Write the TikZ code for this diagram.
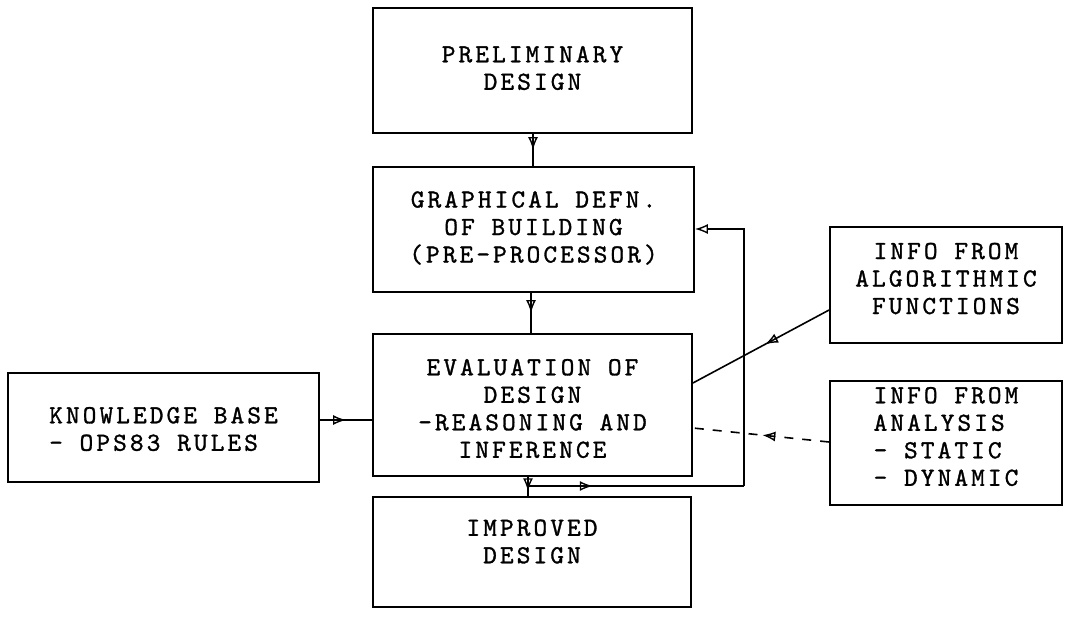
\documentclass[tikz,border=0pt]{standalone}
\usepackage{fontspec}
\usetikzlibrary{arrows.meta,decorations.markings}
\newfontfamily\typew{lmmono10-regular.otf}[LetterSpace=12,FakeBold=1.2]
% text block moved vertically inside its box (positive = up)
\newcommand\shiftc[2]{\raisebox{#1}[\height][\depth]{\begin{tabular}{@{}c@{}}#2\end{tabular}}}
\newcommand\shiftl[2]{\raisebox{#1}[\height][\depth]{\begin{tabular}{@{}l@{}}#2\end{tabular}}}
\begin{document}
\begin{tikzpicture}[x=1pt,y=-1pt,
  blk/.style={draw,line width=1.8pt,inner sep=0pt,
    font=\typew\fontsize{26}{27.5}\selectfont},
  conn/.style={line width=1.6pt},
  tipstyle/.tip={Latex[open,length=13pt,width=10pt,line width=1.4pt]},
  midtip/.style={postaction={decorate},
    decoration={markings,mark=at position #1 with {\arrow{tipstyle}}}},
  midtip/.default=0.5]
\useasboundingbox (0,0) rectangle (1071,629);
\renewcommand\arraystretch{1}

% boxes
\node[blk,minimum width=319,minimum height=125] (prelim) at (532.5,70.5)
  {\shiftc{0pt}{PRELIMINARY\\DESIGN}};
\node[blk,minimum width=321,minimum height=125] (graph) at (533.5,229.5)
  {\shiftc{0pt}{GRAPHICAL DEFN.\\OF BUILDING\\(PRE-PROCESSOR)}};
\node[blk,minimum width=319,minimum height=142] (eval) at (532.5,405)
  {\shiftc{-6pt}{EVALUATION OF\\DESIGN\\-REASONING AND\\INFERENCE}};
\node[blk,minimum width=311,minimum height=109] (know) at (163.5,427.5)
  {\shiftl{-4pt}{KNOWLEDGE BASE\\- OPS83 RULES}};
\node[blk,minimum width=318,minimum height=110] (impr) at (532,552)
  {\shiftc{8pt}{IMPROVED\\DESIGN}};
\node[blk,minimum width=232,minimum height=116] (algo) at (946,285)
  {\shiftc{4pt}{INFO FROM\\ALGORITHMIC\\FUNCTIONS}};
\node[blk,minimum width=232,minimum height=124] (anal) at (946,443)
  {\shiftl{4pt}{INFO FROM\\ANALYSIS\\- STATIC\\- DYNAMIC}};

% junction and corner points of the feedback loop
\coordinate (j) at (528,486);
\coordinate (fbr) at (744,486);
\coordinate (fbt) at (744,229);

% main flow
\draw[conn,midtip] (prelim.south -| 533,0) -- (graph.north -| 533,0);
\draw[conn,midtip] (graph.south -| 531,0) -- (eval.north -| 531,0);
\draw[conn,midtip=0.75] (eval.south -| j) -- (impr.north -| j);
\draw[conn,midtip] (know.east |- 0,420) -- (eval.west |- 0,420);

% feedback to the pre-processor
\draw[conn,midtip=0.3] (j) -- (fbr);
\draw[conn,-{tipstyle}] (fbr) -- (fbt) -- (graph.east |- fbt);

% external information sources
\draw[conn,midtip=0.47] (algo.west |- 0,310) -- (eval.east |- 0,383);
\draw[conn,dash pattern=on 9pt off 9pt,midtip=0.49] (anal.west |- 0,442) -- (eval.east |- 0,428);
\end{tikzpicture}
\end{document}
